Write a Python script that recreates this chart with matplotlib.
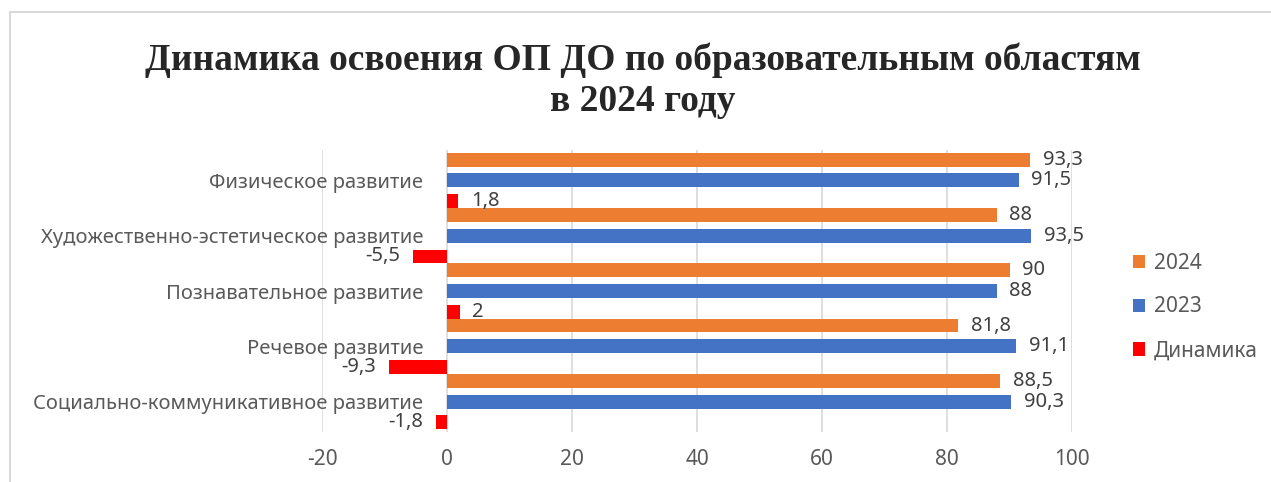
# Динамика освоения ОП ДО по образовательным областям, 2024

import matplotlib.pyplot as plt
from matplotlib.lines import Line2D
import numpy as np

# Data
areas = ['Социально-коммуникативное развитие', 'Речевое развитие',
         'Познавательное развитие', 'Художественно-эстетическое развитие',
         'Физическое развитие']
y2024 = [88.5, 81.8, 90, 88, 93.3]
y2023 = [90.3, 91.1, 88, 93.5, 91.5]
dynamics = [-1.8, -9.3, 2, -5.5, 1.8]
x_ticks = [-20, 0, 20, 40, 60, 80, 100]

plt.rcParams['font.family'] = ['Noto Sans', 'DejaVu Sans']
gray = '#595959'

fig = plt.figure(figsize=(12.71, 4.82), dpi=100)
ax = fig.add_axes([322 / 1271, 1 - 432 / 482, 750 / 1271, 282 / 482])

pos = np.arange(len(areas))
h = 0.25
b24 = ax.barh(pos + 1.5 * h, y2024, height=h, color='#ED7D31', label='2024')
b23 = ax.barh(pos, y2023, height=h, color='#4472C4', label='2023')
bd = ax.barh(pos - 1.5 * h, dynamics, height=h, color='#FF0000', label='Динамика')

fmt = lambda v: f'{v:g}'.replace('.', ',')
for bars in (b24, b23, bd):
    ax.bar_label(bars, labels=[fmt(v) for v in bars.datavalues], padding=9,
                 fontsize=14.5, color='#404040')

# category labels sit next to the zero line, like Excel does
ax.spines['left'].set_position(('data', 0))
for s in ax.spines.values():
    s.set_visible(False)

ax.set_xlim(-20, 100)
ax.set_ylim(-0.55, 4.55)
ax.set_xticks(x_ticks)
ax.set_xticklabels([str(t) for t in x_ticks])
ax.set_yticks(pos)
ax.set_yticklabels(areas)
ax.tick_params(axis='y', length=0, pad=17, labelsize=14.5, labelcolor=gray)
ax.tick_params(axis='x', length=0, pad=12, labelsize=15, labelcolor=gray)
ax.grid(axis='x', color='#d9d9d9', linewidth=1.2)
ax.set_axisbelow(True)

handles = [b24, b23, bd]
fig.legend(handles, [b.get_label() for b in handles], loc='center left',
           bbox_to_anchor=(1114 / 1271, 1 - 307 / 482), frameon=False,
           fontsize=15, labelcolor=gray, handlelength=0.6, handleheight=0.6,
           handletextpad=0.4, labelspacing=1.1)

fig.suptitle('Динамика освоения ОП ДО по образовательным областям\nв 2024 году',
             x=0.506, y=1 - 42 / 482, va='top', fontsize=27, fontweight='bold',
             family='Liberation Serif', color='#262626', linespacing=1.24)

# chart frame
fig.add_artist(Line2D([10 / 1271, 1], [1 - 12 / 482] * 2, transform=fig.transFigure,
                      color='#d9d9d9', linewidth=1.5))
fig.add_artist(Line2D([10 / 1271] * 2, [0, 1 - 12 / 482], transform=fig.transFigure,
                      color='#d9d9d9', linewidth=1.5))

fig.savefig('out.png', dpi=100)
